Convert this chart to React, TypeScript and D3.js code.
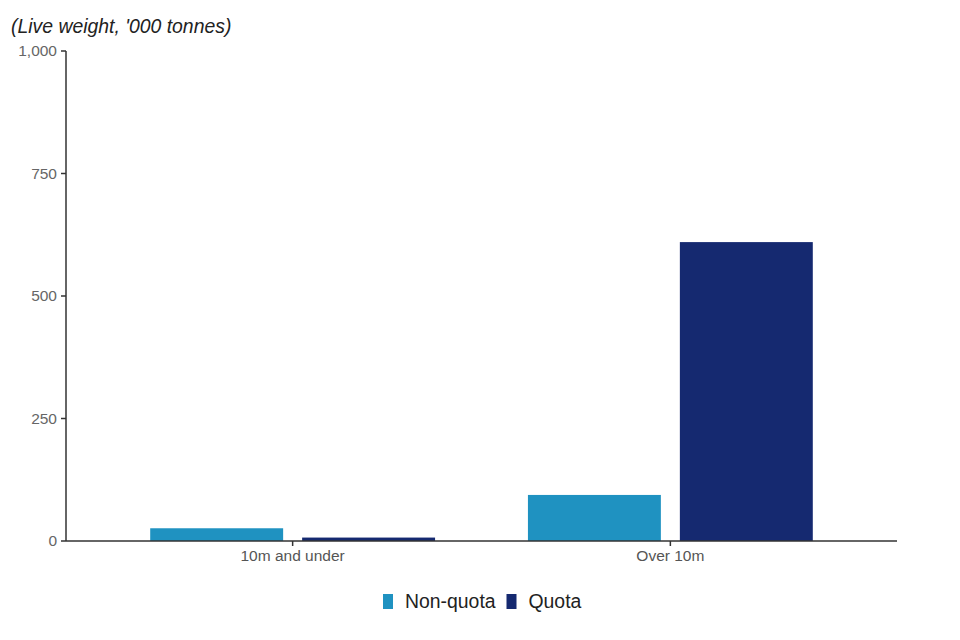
import React from "react";
import * as d3 from "d3";

const categories = ["10m and under", "Over 10m"];
const seriesNames = ["Non-quota", "Quota"];
const nonQuota = [26, 94];
const quota = [7, 610];
const yTicks = [0, 250, 500, 750, 1000];
const colors = ["#1F92C1", "#152970"];
const yLabel = "(Live weight, '000 tonnes)";

const W = 960;
const H = 640;
const left = 66;
const right = 897;
const top = 51;
const bottom = 541;

export default function App() {
  const x0 = d3.scaleBand<string>().domain(categories).range([left, right]).paddingInner(0.2).paddingOuter(0.2);
  const x1 = d3.scaleBand<string>().domain(seriesNames).range([0, x0.bandwidth()]).paddingInner(0.125).paddingOuter(0.057);
  const y = d3.scaleLinear().domain([0, 1000]).range([bottom, top]);
  const fmt = d3.format(",");
  const series = [nonQuota, quota];
  const font = "'Liberation Sans', Arial, sans-serif";

  const items = [
    { name: seriesNames[0], x: 383 },
    { name: seriesNames[1], x: 506.5 },
  ];

  return (
    <svg width={W} height={H} style={{ position: "absolute", left: 0, top: 0 }} fontFamily={font}>
      <rect width={W} height={H} fill="#fff" />
      <text x={11} y={33} fontSize={19.4} fontStyle="italic" fill="#222">{yLabel}</text>

      {categories.map((c, i) =>
        series.map((s, j) => (
          <rect
            key={c + j}
            x={(x0(c) ?? 0) + (x1(seriesNames[j]) ?? 0)}
            y={y(s[i])}
            width={x1.bandwidth()}
            height={bottom - y(s[i])}
            fill={colors[j]}
          />
        ))
      )}

      {/* y axis */}
      <line x1={left} x2={left} y1={top} y2={bottom} stroke="#333" strokeWidth={1.5} />
      {yTicks.map((t) => (
        <g key={t}>
          <line x1={left - 5} x2={left} y1={y(t)} y2={y(t)} stroke="#333" strokeWidth={1.5} />
          <text x={left - 9} y={y(t)} dy="0.35em" textAnchor="end" fontSize={15.5} fill="#666">{fmt(t)}</text>
        </g>
      ))}

      {/* x axis */}
      <line x1={left} x2={right} y1={bottom} y2={bottom} stroke="#333" strokeWidth={1.5} />
      {categories.map((c) => {
        const cx = (x0(c) ?? 0) + x0.bandwidth() / 2;
        return (
          <g key={c}>
            <line x1={cx} x2={cx} y1={bottom} y2={bottom + 5} stroke="#333" strokeWidth={1.5} />
            <text x={cx} y={561} textAnchor="middle" fontSize={15.5} fill="#555">{c}</text>
          </g>
        );
      })}

      {/* legend */}
      {items.map((it, i) => (
        <g key={it.name}>
          <rect x={it.x} y={594} width={10} height={15} fill={colors[i]} />
          <text x={it.x + 22} y={608} fontSize={19.4} fill="#222">{it.name}</text>
        </g>
      ))}
    </svg>
  );
}
